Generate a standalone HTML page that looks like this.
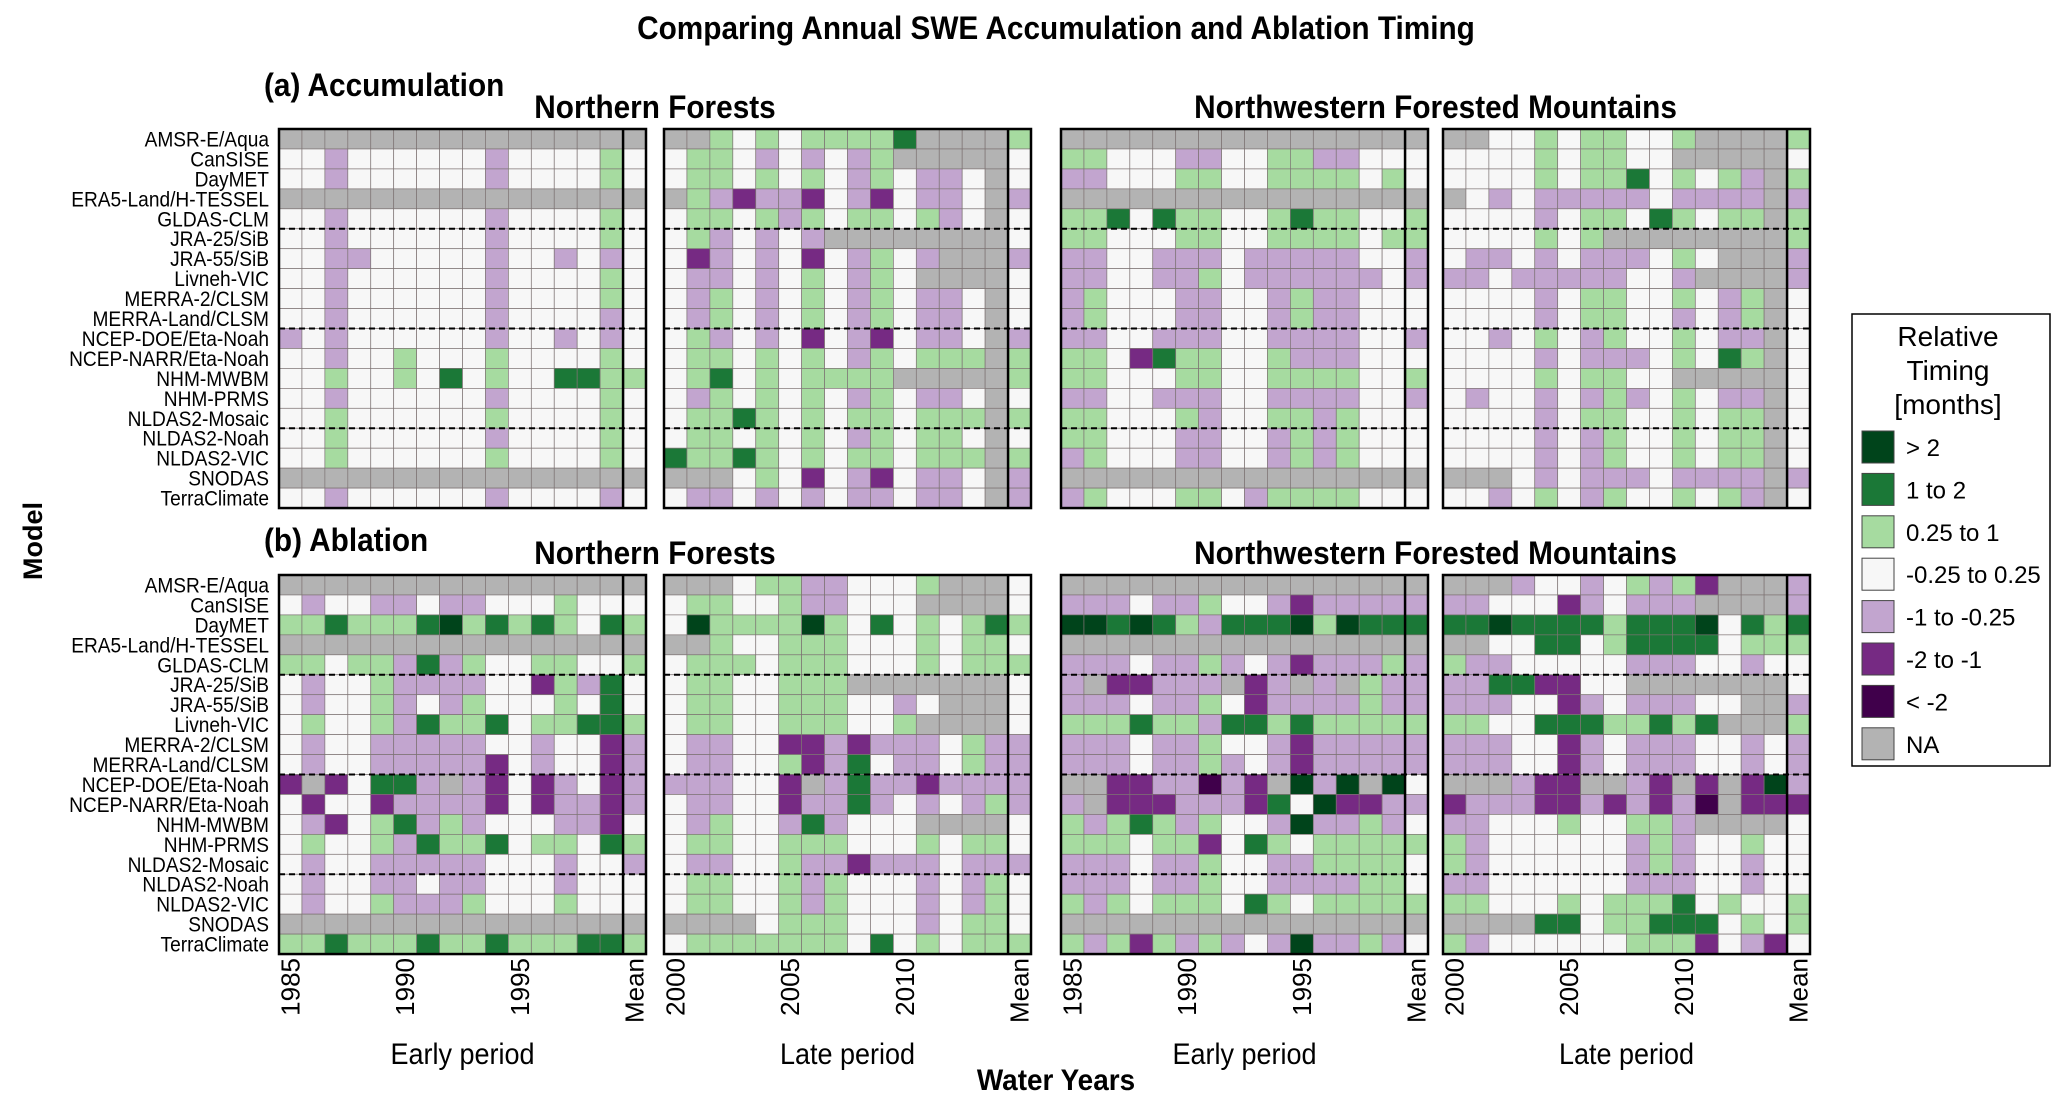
<!DOCTYPE html>
<html><head><meta charset="utf-8"><style>
html,body{margin:0;padding:0;background:#fff;}
svg text{font-family:"Liberation Sans",Arial,sans-serif;}
</style></head><body>
<svg id="chart" width="2067" height="1107" viewBox="0 0 2067 1107" xmlns="http://www.w3.org/2000/svg">
<text class="nar" x="1056" y="39" text-anchor="middle" font-size="32" font-weight="bold">Comparing Annual SWE Accumulation and Ablation Timing</text>
<text class="nar" x="264" y="96" font-size="32" font-weight="bold">(a) Accumulation</text>
<text class="nar" x="264" y="551" font-size="32" font-weight="bold">(b) Ablation</text>
<text transform="translate(42,541) rotate(-90)" text-anchor="middle" font-size="27" font-weight="bold">Model</text>
<text class="nar" x="1056" y="1090" text-anchor="middle" font-size="30" font-weight="bold">Water Years</text>
<g id="grid"></g>
<g id="legend"></g>
</svg>
<script>
const models = ["AMSR-E/Aqua","CanSISE","DayMET","ERA5-Land/H-TESSEL","GLDAS-CLM","JRA-25/SiB","JRA-55/SiB","Livneh-VIC","MERRA-2/CLSM","MERRA-Land/CLSM","NCEP-DOE/Eta-Noah","NCEP-NARR/Eta-Noah","NHM-MWBM","NHM-PRMS","NLDAS2-Mosaic","NLDAS2-Noah","NLDAS2-VIC","SNODAS","TerraClimate"];
const earlyYears = [1985,1986,1987,1988,1989,1990,1991,1992,1993,1994,1995,1996,1997,1998,1999,"Mean"];
const lateYears = [2000,2001,2002,2003,2004,2005,2006,2007,2008,2009,2010,2011,2012,2013,2014,"Mean"];
const earlyTicks = ["1985","1990","1995","Mean"];
const lateTicks = ["2000","2005","2010","Mean"];
const categoryCodes = ["K","D","G","w","l","p","P","n"];
const categoryLabels = ["> 2","1 to 2","0.25 to 1","-0.25 to 0.25","-1 to -0.25","-2 to -1","< -2","NA"];
const categoryColors = ["#00441b","#1b7837","#a6dba0","#f7f7f7","#c2a5cf","#762a83","#40004b","#b3b3b3"];
const A="nnnnnnnnnnnnnnnn";
const accNFEarly = [A,"wwlwwwwwwlwwwwGw","wwlwwwwwwlwwwwGw",A,"wwlwwwwwwlwwwwGw","wwlwwwwwwlwwwwGw","wwllwwwwwlwwlwlw","wwlwwwwwwlwwwwGw","wwlwwwwwwlwwwwGw","wwlwwwwwwlwwwwlw","lwlwwwwwwlwwlwlw","wwlwwGwwwGwwwwGw","wwGwwGwDwGwwDDGG","wwlwwwwwwlwwwwGw","wwGwwwwwwGwwwwGw","wwGwwwwwwlwwwwGw","wwGwwwwwwGwwwwGw",A,"wwlwwwwwwlwwwwlw"];
const accNFLate = ["nnGwGwGGGGDnnnnG","wGGwlwlwlGnnnnnw","wGGwGwGwlGwllwnw","nGlpllpwlpwllwnl","wGGwGlGwGGwGlwnw","wGlwlwlnnnnnnnnw","wplwlwpwlGwlnnnl","wllwlwGwlGwnnnnw","wlGwlwGwlGwllwnw","wlGwlwGwlGwllwnw","wGlwlwpwlpwllwnl","wGGwGwGwlGwGGGnG","wGDwGwGGGGnnnnnG","wlGwGwGwlGwllwnw","wGGDGwGwGGwGGGnG","wGGwGwGwlGwGGwnw","DGGDGwGwGGwGGGnG","nnnwGwpwlpwllwnl","wllwlwlwllwllwnl"];
const accNWEarly = [A,"GGwwwllwwGGllwww","llwwwGGwwGGGGwGw",A,"GGDwDGGwwGDGGwwG","GGwwwGGwwGGGGwGG","llwwlllwlllllwwl","llwwllGwllllllwl","lGwwwllwwlGllwww","lGwwwllwwlGllwww","llwwlllwwllllwwl","GGwpDGGwwGlllwww","GGwwwGGwwGGGGwwG","llwwlllwwllllwwl","GGwwwGlwwGGlGwww","GGwwwllwwlGlGwww","lGwwwllwwlGlGwww",A,"lGwwwGGwlGGGGwww"];
const accNWLate = ["nnwwGwGGwwGnnnnG","wwwwGwGGwwnnnnnw","wwwwGwGGDwGwGlnG","nwlwlllllwllllnl","wwwwlwGGwDGwGGnG","wwwwGwGnnnnnnnnG","wllwlwlllwGwnnnl","llwlllllwwlnnnnl","wwwwlwGGwwGwlGnw","wwwwlwGGwwlwlGnw","wwlwGwlGwwGwllnw","wwwwlwlllwGwDGnw","wwwwGwGGwwnnnnnw","wlwwlwlGlwGwllnw","wwwwlwGGwwGwGGnw","wwwwlwlGwwGwGGnw","wwwwlwlGwwGwGGnw","nnnwlwlllwllllnl","wwlwGwlGwwGwGlnw"];
const ablNFEarly = [A,"wlwwllwllwwwGwww","GGDGGGDKGDGDGwDG",A,"GGwGGlDlGwwGGwwG","wlwwGllllwwpGlDw","wlwwGlwlGwwwGwDw","wGwwGlDGGDwGGDDG","wlwwlllllwwlwwpl","wlwwlllllpwlwwpl","pnpwDDlnlpwplwpl","wpwwpllllpwpllpl","wlpwGDlGlwwwllpw","wGwwGlDGGDwGGwDG","wlwwlllllwwwlwwl","wlwwllwllwwwlwww","wlwwGlllGwwwGwww",A,"GGDGGGDGGDGGGDDG"];
const ablNFLate = ["nnnwGGllwwwGnnnw","wGGwwGllwwwnnnnw","wKGGGGKGwDwGwGDG","nnGwwGGGwwwGwGGw","wGGGwGGGwwwGwGGG","wGGwwGGGnnnnnnnw","wGGwwGGGwwlwnnnw","wGGwwGGGwwGnnnnw","wllwwpplplllwGll","wllwwGplDwllwGll","lllwwpnlDllpllll","wllwwpllDlwlwlGl","wlGwwlDlwwwnnnnw","wGGwwGGGwwwGwGGw","wllwwGllplllwlll","wGGwwGlGwwwlwlGw","wGGwwGlGwwwlwlGw","nnnnwGGGwwwlwGGw","wGGGGGGGwDwGwGGG"];
const ablNWEarly = [A,"lllwllGwwlplllll","KKDKDGlDDDKGKDDD",A,"lllwllGlwlplllGl","lnpplllnplnlnGll","lllwllGwpllllGll","GGGDGGlDDGDGGGGG","lllwllGwwlplllll","lllwllGlwlplllll","nnppllPlpnKlKnKw","lnppplllpDwKppll","GlGDGlGwwlKllGlw","GGGwGGpwDGwGGGGG","lllwllGwwllGGGGw","lllwllGwwllllGGw","GlGwGGGwDGwGGGGG",A,"GlGpGlGlwlKllGlw"];
const ablNWLate = ["nnnlwwlwGlGpnnnl","llwwwplwlllnnnnl","DDKDDDDGDDDKwDGD","nnwwDDwGDDDDwGGG","Gllwwwwwlllwwlww","llDDppwwnnnnnnnw","lllwwplwlllwwnnl","GGwwDDDGGDGDnnnG","lllwwplwlllwwlwl","lllwwplwlllwwlwl","nnnlppnnlpnpnpKl","plllpplplplPnppp","llwwwGwwGGlnnnnw","GlwwwwwwlGlwwGww","GlwwwwwwlGlwwlww","llwwwwwwlllwwlww","GGwwwGwGGGDwGwwG","nnnnDDwGGDDDwGwG","GlwwwwwwGGGpwlpw"];

const NS="http://www.w3.org/2000/svg";
const svg=document.getElementById('chart');
const grid=document.getElementById('grid');
const panelX=[279,664,1061,1443];
const panelW=367;
const rowTop=[129,575];
const nRows=models.length;
const cellH=19.95;
const nCols=16;
const cellW=panelW/nCols;
function xCol(p,i){return panelX[p]+i*cellW;}
function yRow(r,i){return rowTop[r]+i*cellH;}
function mk(tag,attrs,parent){const e=document.createElementNS(NS,tag);for(const k in attrs)e.setAttribute(k,attrs[k]);(parent||grid).appendChild(e);return e;}
function colorOf(c){return categoryColors[categoryCodes.indexOf(c)];}
function narrow(t,f){try{const w=t.getComputedTextLength();if(w>0){t.setAttribute('textLength',(w*f).toFixed(1));t.setAttribute('lengthAdjust','spacingAndGlyphs');}}catch(e){}}

const panels=[
 [0,0,accNFEarly,earlyYears,"acc-northern-forests-early"],
 [0,1,accNFLate,lateYears,"acc-northern-forests-late"],
 [0,2,accNWEarly,earlyYears,"acc-nw-mountains-early"],
 [0,3,accNWLate,lateYears,"acc-nw-mountains-late"],
 [1,0,ablNFEarly,earlyYears,"abl-northern-forests-early"],
 [1,1,ablNFLate,lateYears,"abl-northern-forests-late"],
 [1,2,ablNWEarly,earlyYears,"abl-nw-mountains-early"],
 [1,3,ablNWLate,lateYears,"abl-nw-mountains-late"]
];
panels.forEach(([r,p,data,years,name])=>{
  const g=mk('g',{});
  
  
  data.forEach((row,ri)=>{
    for(let ci=0;ci<years.length;ci++){
      const rc=mk('rect',{x:xCol(p,ci),y:yRow(r,ri),width:cellW,height:cellH,fill:colorOf(row[ci]),stroke:'#7d7373','stroke-width':0.7},g);
      
      
    }
  });
  [5,10,15].forEach(k=>{
    const ln=mk('line',{x1:panelX[p],x2:panelX[p]+panelW,y1:yRow(r,k),y2:yRow(r,k),stroke:'#000','stroke-width':2,'stroke-dasharray':'6,4'},g);
    
    
  });
  const mx=xCol(p,nCols-1);
  const ml=mk('line',{x1:mx,x2:mx,y1:rowTop[r],y2:rowTop[r]+nRows*cellH,stroke:'#000','stroke-width':2.5},g);
  
  
  const bd=mk('rect',{x:panelX[p],y:rowTop[r],width:panelW,height:nRows*cellH,fill:'none',stroke:'#000','stroke-width':2.5},g);
  
  
});
// row labels
[0,1].forEach(r=>{
  models.forEach((m,i)=>{
    const t=mk('text',{x:269,y:yRow(r,i)+cellH/2+7.5,'text-anchor':'end','font-size':21.5});
    t.textContent=m;
    
    
    narrow(t,0.89);
  });
});
// region titles
[[0,1],[2,3]].forEach((pp,k)=>{
  const cx=(panelX[pp[0]]+panelX[pp[1]]+panelW)/2;
  [118,564].forEach(y=>{
    const t=mk('text',{x:cx,y:y,'text-anchor':'middle','font-size':32,'font-weight':'bold'});
    t.textContent=k===0?"Northern Forests":"Northwestern Forested Mountains";
    
    
    narrow(t,0.93);
  });
});
// x ticks
[0,1,2,3].forEach(p=>{
  const years=p%2===0?earlyYears:lateYears;
  const ticks=p%2===0?earlyTicks:lateTicks;
  ticks.forEach(lbl=>{
    const ci=years.map(String).indexOf(lbl);
    const cx=xCol(p,ci)+cellW/2+9;
    const t=mk('text',{transform:`translate(${cx},958) rotate(-90)`,'text-anchor':'end','font-size':26});
    t.textContent=lbl;
    
    
  });
  const pt=mk('text',{x:panelX[p]+panelW/2,y:1064,'text-anchor':'middle','font-size':30});
  pt.textContent=p%2===0?"Early period":"Late period";
  
  
  narrow(pt,0.9);
});
document.querySelectorAll('text.nar').forEach(t=>narrow(t,0.93));
// legend
const lg=document.getElementById('legend');
const lb=mk('rect',{x:1852,y:314,width:198,height:452,fill:'#fff',stroke:'#000','stroke-width':1.5},lg);


["Relative","Timing","[months]"].forEach((s,i)=>{
  const t=mk('text',{x:1948,y:346+i*34,'text-anchor':'middle','font-size':28},lg);
  t.textContent=s;
  
  
});
categoryLabels.forEach((s,i)=>{
  const cy=447+i*42.4;
  const sw=mk('rect',{x:1862,y:cy-16,width:32,height:32,fill:categoryColors[i],stroke:'#444','stroke-width':1},lg);
  
  
  const t=mk('text',{x:1906,y:cy+9,'font-size':24},lg);
  t.textContent=s;
  
  
});
</script>
</body></html>
